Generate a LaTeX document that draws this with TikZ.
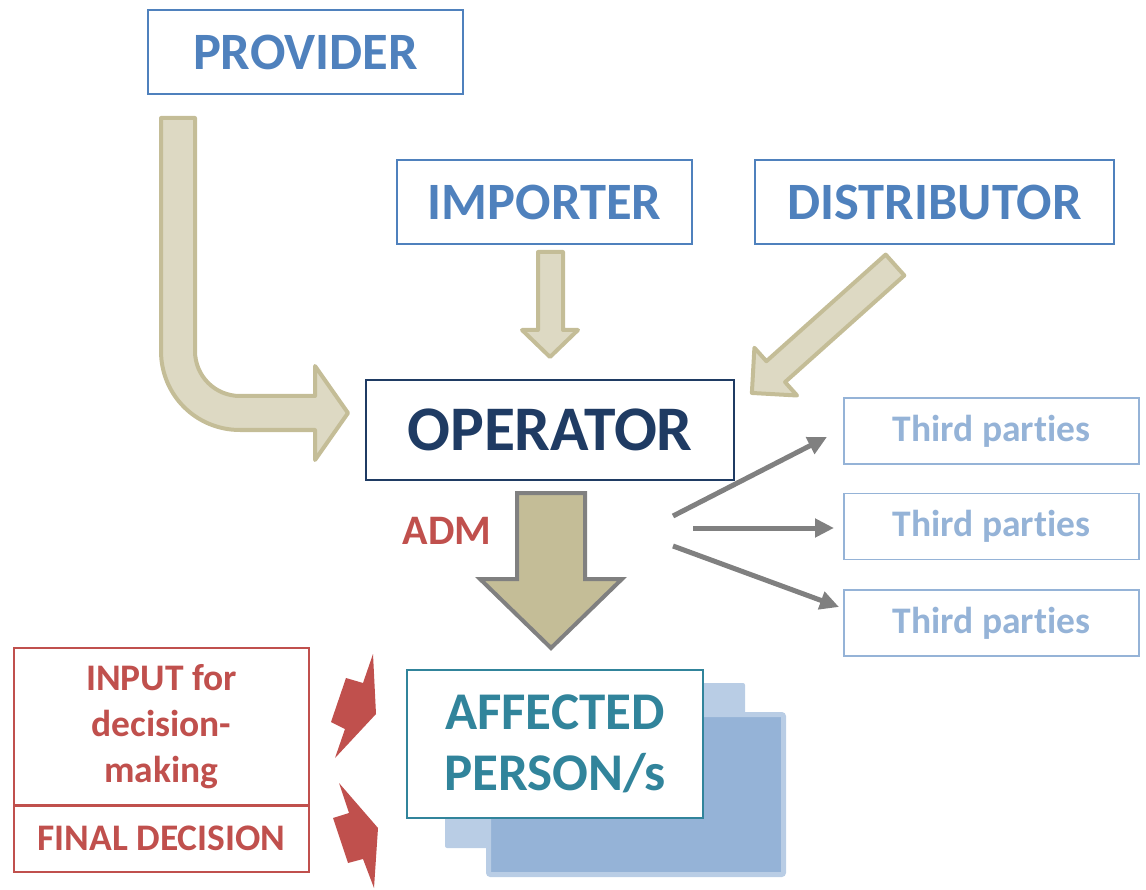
\documentclass[tikz,border=0pt]{standalone}
\usepackage{fontspec}
\setmainfont{Carlito}[Ligatures=NoCommon]
\usetikzlibrary{
  arrows.meta,
  positioning
}
\definecolor{roleblue}{HTML}{4F81BD}
\definecolor{opnavy}{HTML}{1F3B63}
\definecolor{partyblue}{HTML}{95B3D7}
\definecolor{admred}{HTML}{C0504D}
\definecolor{persteal}{HTML}{31849B}
\definecolor{tanfill}{HTML}{DDD9C3}
\definecolor{tanline}{HTML}{C4BD97}
\definecolor{greyline}{HTML}{808080}
\definecolor{stacklight}{HTML}{B9CDE5}

\begin{document}
\begin{tikzpicture}[
    x=1pt, y=-1pt,
  every node/.style = {shape=rectangle, align=center, inner sep=0pt,
    font=\bfseries},
  rolebox/.style = {draw=roleblue, line width=1.6pt, text=roleblue,
    minimum height=84pt, font=\bfseries\fontsize{52.5}{60}\selectfont},
  partybox/.style = {draw=partyblue, line width=1.6pt, text=partyblue,
    minimum width=295pt, minimum height=66pt,
    font=\bfseries\fontsize{37.5}{44}\selectfont},
  redbox/.style = {draw=admred, line width=1.6pt, text=admred,
    minimum width=295pt, font=\bfseries\fontsize{37.5}{46}\selectfont},
  blockarrow/.style = {fill=tanfill, draw=tanline, line width=4pt,
    line join=round},
  fanarrow/.style = {draw=greyline, line width=5pt,
    -{Triangle[length=19pt,width=18pt]}}]
  \useasboundingbox (0,0) rectangle (1146,890);

  % actors
  \node[rolebox, minimum width=315pt] (provider) at (305.5,52) {PROVIDER};
  \node[rolebox, minimum width=295pt] (importer) at (544.5,202) {IMPORTER};
  \node[rolebox, minimum width=359pt] (distributor) at (934.5,202) {DISTRIBUTOR};
  \node[draw=opnavy, line width=1.6pt, text=opnavy,
    minimum width=368pt, minimum height=100pt,
    font=\bfseries\fontsize{63.5}{72}\selectfont] (operator) at (550,430) {OPERATOR};

  % third parties
  \node[partybox] (tp1) at (991.5,431) {Third parties};
  \node[partybox] (tp2) at (991.5,526.5) {Third parties};
  \node[partybox] (tp3) at (991.5,623) {Third parties};

  % block arrows into the operator
  \draw[blockarrow] (161,118) -- (195,118) -- (195,351)
    .. controls (195,376) and (215,396) .. (240,396) -- (315,396)
    -- (315,366) -- (348,413) -- (315,460) -- (315,430) -- (240,430)
    .. controls (196,430) and (161,395) .. (161,351) -- cycle;
  \draw[blockarrow] (538,252) -- (563,252) -- (563,330) -- (578,330)
    -- (550,357) -- (522,330) -- (538,330) -- cycle;
  \begin{scope}[shift={(895,265)}, rotate=221.8]
    \draw[blockarrow] (0,-14) -- (160,-14) -- (160,-32) -- (192,0)
      -- (160,32) -- (160,14) -- (0,14) -- cycle;
  \end{scope}

  % fan to third parties
  \coordinate (fan1) at (673,516);
  \coordinate (fan2) at (693,528);
  \coordinate (fan3) at (673,546);
  \coordinate (hit1) at (827,437);
  \coordinate (hit2) at (834,528);
  \coordinate (hit3) at (839,607);
  \draw[fanarrow] (fan1) -- (hit1);
  \draw[fanarrow] (fan2) -- (hit2);
  \draw[fanarrow] (fan3) -- (hit3);

  % ADM
  \node[text=admred, font=\bfseries\fontsize{42}{48}\selectfont] (adm) at (447,531) {ADM};
  \draw[fill=tanline, draw=greyline, line width=4pt] (517,493) -- (585,493)
    -- (585,579) -- (622,579) -- (551,648) -- (480,579) -- (517,579) -- cycle;

  % affected persons
  \fill[stacklight, rounded corners=2pt] (445,683) rectangle (745,848);
  \draw[fill=partyblue, draw=stacklight, line width=5pt, rounded corners=2pt]
    (488.5,714.5) rectangle (783.5,874.5);
  \node[draw=persteal, fill=white, line width=1.6pt, text=persteal,
    minimum width=296pt, minimum height=148pt,
    font=\bfseries\fontsize{53}{61}\selectfont] (affected) at (555,744)
    {AFFECTED\\PERSON/s};

  % input and decision
  \node[redbox, minimum height=158pt] (input) at (161.5,727)
    {INPUT for\\decision-\\making};
  \node[redbox, minimum height=67pt] (final) at (161.5,838.5) {FINAL DECISION};
  \fill[admred] (373,654) -- (376,714) -- (335,758) -- (345,729)
    -- (331,722) -- (346,678) -- (363,683) -- cycle;
  \fill[admred] (339,783) -- (378,828) -- (374,888) -- (363,859)
    -- (348,863) -- (333,818) -- (349,813) -- cycle;
\end{tikzpicture}
\end{document}
